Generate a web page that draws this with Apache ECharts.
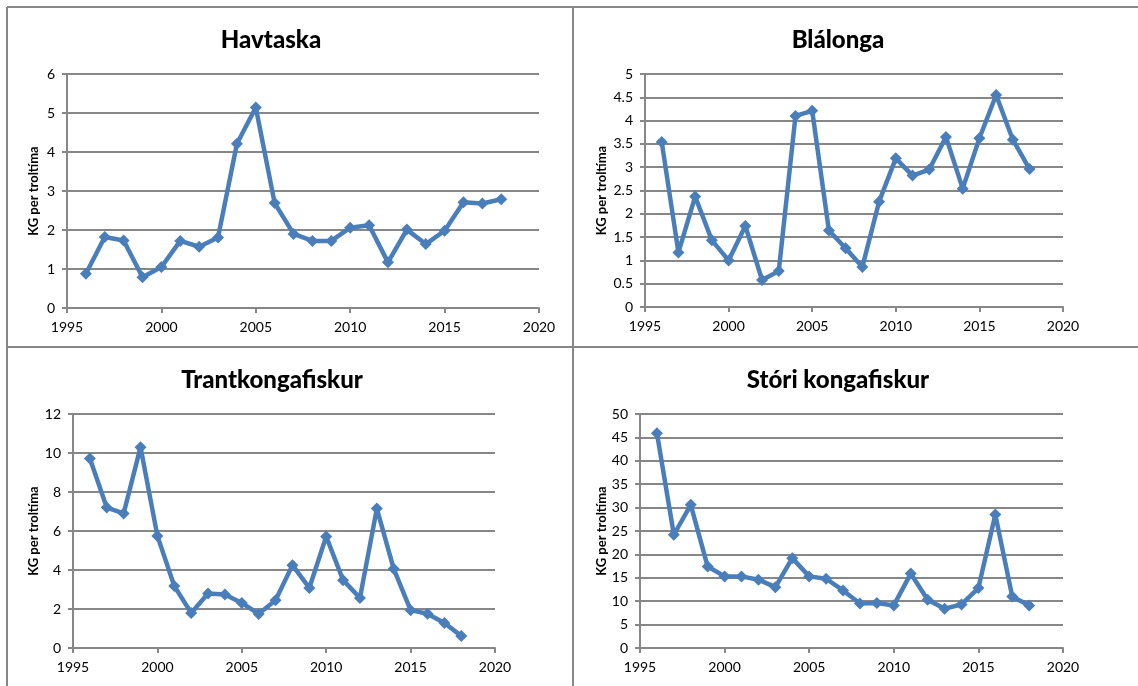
<!DOCTYPE html>
<html>
<head>
<meta charset="utf-8">
<script src="https://cdn.jsdelivr.net/npm/echarts@6/dist/echarts.min.js"></script>
<style>
  html, body { margin: 0; padding: 0; background: #fff; }
  #chart { width: 1138px; height: 686px; }
</style>
</head>
<body>
<div id="chart"></div>
<script>
const YEARS = [1996, 1997, 1998, 1999, 2000, 2001, 2002, 2003, 2004, 2005, 2006, 2007,
    2008, 2009, 2010, 2011, 2012, 2013, 2014, 2015, 2016, 2017, 2018];

const TITLES = ['Havtaska', 'Blálonga', 'Trantkongafiskur', 'Stóri kongafiskur'];

const HAVTASKA = [0.88, 1.82, 1.73, 0.79, 1.05, 1.72, 1.57, 1.81, 4.21, 5.14, 2.69, 1.9,
    1.72, 1.72, 2.06, 2.12, 1.17, 2.01, 1.64, 1.98, 2.71, 2.68, 2.79];
const BLALONGA = [3.54, 1.17, 2.37, 1.43, 1.0, 1.74, 0.58, 0.77, 4.1, 4.21, 1.64, 1.26,
    0.86, 2.26, 3.19, 2.82, 2.95, 3.65, 2.54, 3.62, 4.55, 3.59, 2.96];
const TRANTKONGAFISKUR = [9.72, 7.2, 6.9, 10.3, 5.75, 3.18, 1.8, 2.79, 2.74, 2.31, 1.75, 2.45,
    4.25, 3.08, 5.72, 3.48, 2.57, 7.15, 4.06, 1.94, 1.76, 1.28, 0.62];
const STORI_KONGAFISKUR = [45.9, 24.2, 30.6, 17.4, 15.3, 15.3, 14.6, 13.0, 19.2, 15.3, 14.8, 12.3,
    9.5, 9.6, 9.1, 15.9, 10.3, 8.4, 9.3, 12.8, 28.5, 11.0, 9.1];

const SERIES_DATA = [HAVTASKA, BLALONGA, TRANTKONGAFISKUR, STORI_KONGAFISKUR];
const Y_MAX = [6, 5, 12, 50];
const Y_STEP = [1, 0.5, 2, 5];
const X_MIN = 1995, X_MAX = 2020, X_STEP = 5;
const Y_NAME = 'KG per troltíma';

const GRAY = '#878787';
const BLUE = '#4a7ebb';
const FONT = 'Lato, "Liberation Sans", sans-serif';

// plot areas in px
const GRIDS = [
    { left: 67, top: 74, width: 472, height: 234 },
    { left: 645, top: 74, width: 418, height: 233 },
    { left: 73, top: 414, width: 422, height: 234 },
    { left: 640, top: 414, width: 423, height: 234 }
];
const NAME_GAPS = [27, 37, 33, 32];
const TITLE_POS = [
    { left: 266, top: 23 },
    { left: 833, top: 23 },
    { left: 267, top: 363 },
    { left: 833, top: 363 }
];

const chart = echarts.init(document.getElementById('chart'));

const option = {
    animation: false,
    backgroundColor: '#fff',
    title: TITLES.map((t, i) => ({
        text: t,
        left: TITLE_POS[i].left,
        top: TITLE_POS[i].top,
        textAlign: 'center',
        textStyle: { fontFamily: FONT, fontSize: 24, fontWeight: 900, color: '#000' }
    })),
    grid: GRIDS.map(g => ({ ...g, containLabel: false })),
    xAxis: GRIDS.map((_, i) => ({
        type: 'value',
        gridIndex: i,
        min: X_MIN,
        max: X_MAX,
        interval: X_STEP,
        axisLine: { show: true, lineStyle: { color: GRAY, width: 2 } },
        axisTick: { show: true, length: 5, lineStyle: { color: GRAY, width: 2 } },
        axisLabel: { color: '#000', fontFamily: FONT, fontSize: 14, margin: 12, formatter: v => String(v) },
        splitLine: { show: false }
    })),
    yAxis: GRIDS.map((_, i) => ({
        type: 'value',
        gridIndex: i,
        min: 0,
        max: Y_MAX[i],
        interval: Y_STEP[i],
        name: Y_NAME,
        nameLocation: 'middle',
        nameGap: NAME_GAPS[i],
        nameTextStyle: { fontFamily: FONT, fontSize: 13, fontWeight: 'bold', color: '#000' },
        axisLine: { show: true, lineStyle: { color: GRAY, width: 2 } },
        axisTick: { show: true, length: 5, lineStyle: { color: GRAY, width: 2 } },
        axisLabel: { color: '#000', fontFamily: FONT, fontSize: 14, margin: 12 },
        splitLine: { show: true, lineStyle: { color: GRAY, width: 2 } }
    })),
    series: SERIES_DATA.map((vals, i) => ({
        name: TITLES[i],
        type: 'line',
        xAxisIndex: i,
        yAxisIndex: i,
        data: YEARS.map((y, k) => [y, vals[k]]),
        symbol: 'diamond',
        symbolSize: [12, 12],
        lineStyle: { color: BLUE, width: 4.5 },
        itemStyle: { color: BLUE }
    })),
    graphic: [
        { type: 'line', shape: { x1: 7, y1: 7, x2: 1138, y2: 7 }, style: { stroke: GRAY, lineWidth: 2 } },
        { type: 'line', shape: { x1: 7, y1: 347, x2: 1138, y2: 347 }, style: { stroke: GRAY, lineWidth: 2 } },
        { type: 'line', shape: { x1: 7, y1: 7, x2: 7, y2: 686 }, style: { stroke: GRAY, lineWidth: 2 } },
        { type: 'line', shape: { x1: 573, y1: 7, x2: 573, y2: 686 }, style: { stroke: GRAY, lineWidth: 2 } }
    ]
};

chart.setOption(option);
</script>
</body>
</html>
